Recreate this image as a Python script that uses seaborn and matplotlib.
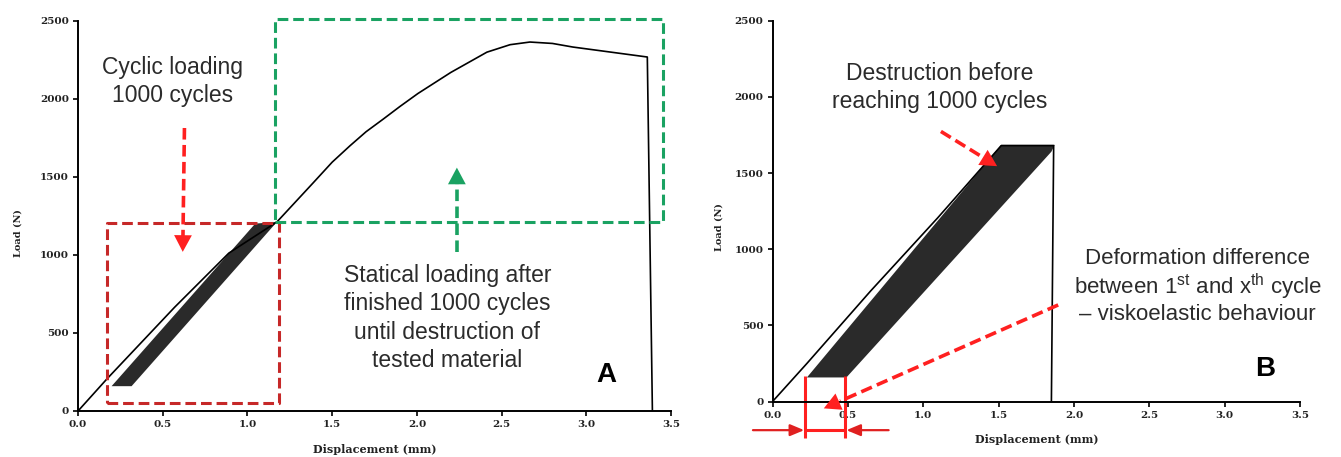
import matplotlib
matplotlib.use('Agg')
import numpy as np
import pandas as pd
import matplotlib.pyplot as plt
import seaborn as sns

# --- panel A: first cycle, then static loading until destruction
a_x = [0.0, 0.17, 0.57, 0.89, 1.174, 1.39, 1.5, 1.605, 1.7, 1.8, 1.9, 2.006, 2.2,
       2.413, 2.55, 2.667, 2.8, 2.92, 3.36, 3.39]
a_y = [0, 205, 665, 1012, 1212, 1465, 1595, 1700, 1790, 1870, 1952, 2035, 2170,
       2300, 2348, 2365, 2356, 2333, 2269, 0]
# cyclic band (1000 cycles) outline
a_band_x = [0.198, 1.046, 1.174, 0.316]
a_band_y = [159, 1201, 1212, 159]

# --- panel B: destruction before 1000 cycles
b_x = [0.0, 0.228, 0.65, 1.095, 1.517, 1.865, 1.85]
b_y = [0, 250, 725, 1205, 1680, 1680, 0]
b_band_x = [0.228, 1.517, 1.872, 1.85, 0.49]
b_band_y = [158, 1685, 1685, 1640, 158]

x_ticks = [0.0, 0.5, 1.0, 1.5, 2.0, 2.5, 3.0, 3.5]
y_ticks = [0, 500, 1000, 1500, 2000, 2500]

txt_col = '#2b2b2b'
red = '#ff2020'
dark_red = '#c62828'
green = '#1aa262'

sns.set_theme(style='ticks')
plt.rcParams['font.family'] = ['Liberation Sans', 'DejaVu Sans']
plt.rcParams['mathtext.fontset'] = 'custom'
plt.rcParams['mathtext.rm'] = 'Liberation Sans'

fig = plt.figure(figsize=(13.41, 4.57), dpi=100)
axA = fig.add_axes([0.0582, 0.1007, 0.4422, 0.8534])
axB = fig.add_axes([0.5761, 0.1214, 0.3934, 0.8333])


def style_axes(ax):
    ax.set_xlim(0, 3.5)
    ax.set_ylim(0, 2500)
    ax.set_xticks(x_ticks)
    ax.set_yticks(y_ticks)
    ax.set_xticklabels([f'{v:.1f}' for v in x_ticks])
    for lab in ax.get_xticklabels() + ax.get_yticklabels():
        lab.set_family('DejaVu Serif')
        lab.set_weight('bold')
        lab.set_fontsize(7.5)
        lab.set_color('#222222')
    ax.tick_params(direction='out', length=3.5, width=1.2, color='black', pad=3)
    for s in ['top', 'right']:
        ax.spines[s].set_visible(False)
    for s in ['left', 'bottom']:
        ax.spines[s].set_linewidth(1.4)
        ax.spines[s].set_color('black')
    ax.set_xlabel('Displacement (mm)', family='DejaVu Serif', weight='bold',
                  fontsize=8, color='#222222')
    ax.set_ylabel('Load (N)', family='DejaVu Serif', weight='bold',
                  fontsize=7, color='#222222')
    ax.xaxis.set_label_coords(0.5, -0.085)
    ax.yaxis.set_label_coords(-0.093, 0.457)
    ax.set_facecolor('white')


def dashed_arrow(ax, start, end, color, lw=2.6, frac=0.9):
    # dashed shaft, then a solid filled head
    mid = (start[0] + frac * (end[0] - start[0]), start[1] + frac * (end[1] - start[1]))
    ax.plot([start[0], mid[0]], [start[1], mid[1]], color=color, lw=lw,
            ls=(0, (3.2, 1.5)), clip_on=False, solid_capstyle='butt')
    ax.annotate('', xy=end, xytext=start, annotation_clip=False,
                arrowprops=dict(arrowstyle='-|>,head_length=0.6,head_width=0.32',
                                mutation_scale=20, lw=0, fc=color, ec=color,
                                shrinkA=0, shrinkB=0))


# ---------- panel A ----------
axA.fill(a_band_x, a_band_y, color='#2a2a2a', lw=0)
sns.lineplot(x=a_x, y=a_y, sort=False, estimator=None, color='black', lw=1.2, ax=axA)
style_axes(axA)

axA.plot([0.168, 1.184, 1.184, 0.168, 0.168], [48, 48, 1208, 1208, 48],
         color=dark_red, lw=2.2, ls=(0, (3.5, 1.6)), clip_on=False)
axA.plot([1.165, 3.45, 3.45, 1.165, 1.165], [1210, 1210, 2513, 2513, 1210],
         color=green, lw=2.2, ls=(0, (3.5, 1.6)), clip_on=False)

dashed_arrow(axA, (0.628, 1814), (0.618, 1020), red)
dashed_arrow(axA, (2.236, 1019), (2.236, 1560), green)

axA.text(0.56, 2111, 'Cyclic loading\n1000 cycles', ha='center', va='center',
         fontsize=16.5, color=txt_col, linespacing=1.3)
axA.text(2.18, 597, 'Statical loading after\nfinished 1000 cycles\nuntil destruction of\ntested material',
         ha='center', va='center', fontsize=16.5, color=txt_col, linespacing=1.3)
axA.text(3.12, 229, 'A', ha='center', va='center', fontsize=20, weight='bold', color='black')

# ---------- panel B ----------
axB.fill(b_band_x, b_band_y, color='#2a2a2a', lw=0)
sns.lineplot(x=b_x, y=b_y, sort=False, estimator=None, color='black', lw=1.2, ax=axB)
style_axes(axB)

# deformation bracket under the band
axB.plot([0.217, 0.217], [169, -240], color=red, lw=2.2, clip_on=False, solid_capstyle='butt')
axB.plot([0.483, 0.483], [169, -240], color=red, lw=2.2, clip_on=False, solid_capstyle='butt')
axB.plot([0.217, 0.483], [-188, -188], color=red, lw=2.2, clip_on=False)
for x0, x1 in [(-0.13, 0.21), (0.77, 0.49)]:
    axB.annotate('', xy=(x1, -188), xytext=(x0, -188), annotation_clip=False,
                 arrowprops=dict(arrowstyle='-|>,head_length=0.6,head_width=0.25',
                                 mutation_scale=14, lw=1.6, color='#e02020',
                                 shrinkA=0, shrinkB=0))

dashed_arrow(axB, (1.117, 1773), (1.49, 1545), red, frac=0.85)
dashed_arrow(axB, (1.895, 634), (0.34, -45), red, frac=0.93)

axB.text(1.11, 2062, 'Destruction before\nreaching 1000 cycles', ha='center', va='center',
         fontsize=16.5, color=txt_col, linespacing=1.3)
axB.text(2.82, 755,
         'Deformation difference\nbetween 1$^{\\mathrm{st}}$ and x$^{\\mathrm{th}}$ cycle\n\u2013 viskoelastic behaviour',
         ha='center', va='center', fontsize=16, color=txt_col, linespacing=1.12,
         clip_on=False)
axB.text(3.27, 214, 'B', ha='center', va='center', fontsize=20, weight='bold', color='black')

fig.savefig('out.png', dpi=100, facecolor='white')
